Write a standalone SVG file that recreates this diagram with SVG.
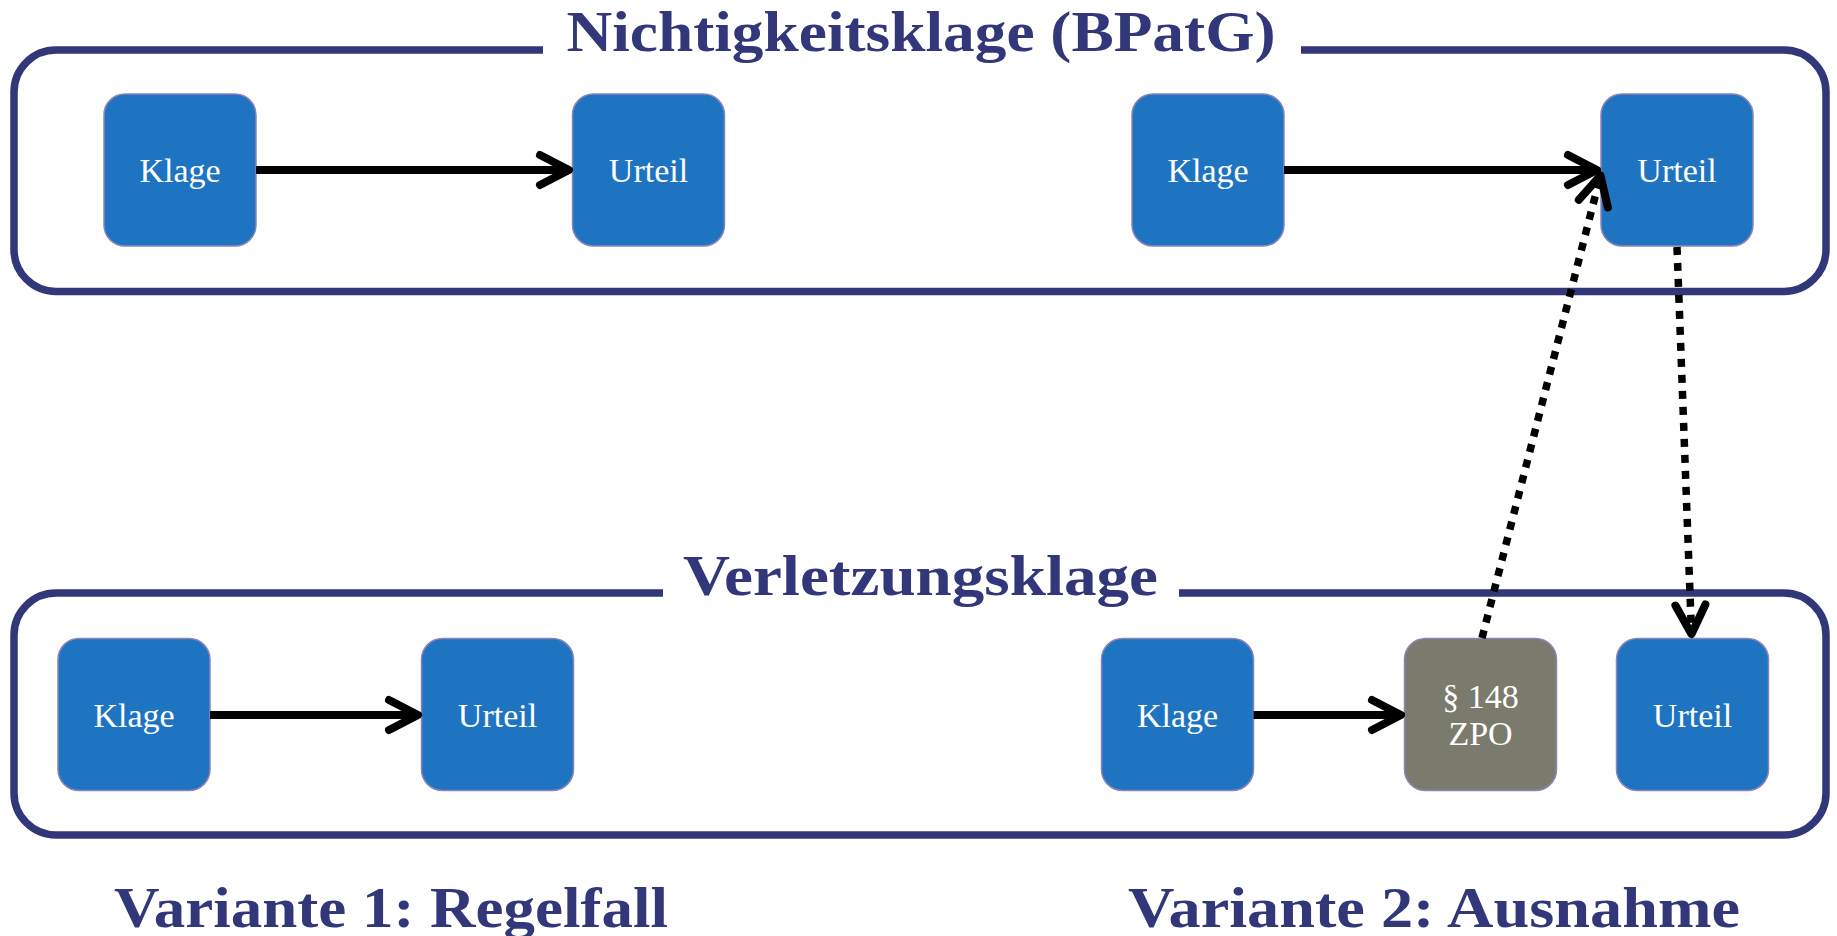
<svg xmlns="http://www.w3.org/2000/svg" width="1837" height="936" viewBox="0 0 1837 936">
<style>
.frame{fill:none;stroke:#32377a;stroke-width:7.5}
.title{font-family:"Liberation Serif","Times New Roman",serif;font-weight:bold;font-size:57px;fill:#32377a;text-anchor:middle}
.node rect{stroke:#8a84b8;stroke-width:1.5}
.blue{fill:#1f74c2}
.gray{fill:#7b7b6d}
.node text{font-family:"Liberation Serif","Times New Roman",serif;font-size:34px;fill:#ffffff;text-anchor:middle}
.conn{fill:none;stroke:#000;stroke-width:8;marker-end:url(#chev)}
.dot{fill:none;stroke:#000;stroke-width:7.5;stroke-dasharray:8 8;marker-end:url(#chev)}
</style>
<defs>
<marker id="chev" markerUnits="userSpaceOnUse" viewBox="-40 -25 50 50" markerWidth="50" markerHeight="50" refX="0" refY="0" orient="auto" overflow="visible">
<path d="M-29,-15 L0,0 L-29,15" fill="none" stroke="#000" stroke-width="8" stroke-linecap="round" stroke-linejoin="round" stroke-dasharray="none"/>
</marker>
</defs>
<rect width="1837" height="936" fill="#ffffff"/>
<g id="frame-nichtigkeit">
<path class="frame" d="M1301,50 H1784 A42,42 0 0 1 1826,92 V249.5 A42,42 0 0 1 1784,291.5 H56 A42,42 0 0 1 14,249.5 V92 A42,42 0 0 1 56,50 H543"/>
<text class="title" x="921" y="51" textLength="709" lengthAdjust="spacingAndGlyphs">Nichtigkeitsklage (BPatG)</text>
</g>
<g id="frame-verletzung">
<path class="frame" d="M1179,593 H1784 A42,42 0 0 1 1826,635 V793 A42,42 0 0 1 1784,835 H56 A42,42 0 0 1 14,793 V635 A42,42 0 0 1 56,593 H663"/>
<text class="title" x="920.5" y="595" textLength="475" lengthAdjust="spacingAndGlyphs">Verletzungsklage</text>
</g>
<g id="label-variante1"><text class="title" x="391" y="927" textLength="554" lengthAdjust="spacingAndGlyphs">Variante 1: Regelfall</text></g>
<g id="label-variante2"><text class="title" x="1434" y="927" textLength="612" lengthAdjust="spacingAndGlyphs">Variante 2: Ausnahme</text></g>

<g id="n-klage-top1" class="node"><rect class="blue" x="104" y="94" width="152" height="152" rx="21"/><text x="180" y="182">Klage</text></g>
<g id="n-urteil-top1" class="node"><rect class="blue" x="572.5" y="94" width="152" height="152" rx="21"/><text x="648.5" y="182">Urteil</text></g>
<g id="n-klage-top2" class="node"><rect class="blue" x="1132" y="94" width="152" height="152" rx="21"/><text x="1208" y="182">Klage</text></g>
<g id="n-urteil-top2" class="node"><rect class="blue" x="1601" y="94" width="152" height="152" rx="21"/><text x="1677" y="182">Urteil</text></g>

<g id="n-klage-bot1" class="node"><rect class="blue" x="58" y="638.5" width="152" height="152" rx="21"/><text x="134" y="726.5">Klage</text></g>
<g id="n-urteil-bot1" class="node"><rect class="blue" x="421.5" y="638.5" width="152" height="152" rx="21"/><text x="497.5" y="726.5">Urteil</text></g>
<g id="n-klage-bot2" class="node"><rect class="blue" x="1101.5" y="638.5" width="152" height="152" rx="21"/><text x="1177.5" y="726.5">Klage</text></g>
<g id="n-zpo" class="node"><rect class="gray" x="1404.5" y="638.5" width="152" height="152" rx="21"/><text x="1480.5" y="708">§ 148</text><text x="1480.5" y="745">ZPO</text></g>
<g id="n-urteil-bot2" class="node"><rect class="blue" x="1616.5" y="638.5" width="152" height="152" rx="21"/><text x="1692.5" y="726.5">Urteil</text></g>

<g id="connectors">
<line class="conn" x1="256" y1="170" x2="569" y2="170"/>
<line class="conn" x1="1284" y1="170" x2="1597" y2="170"/>
<line class="conn" x1="210" y1="715" x2="418" y2="715"/>
<line class="conn" x1="1253.5" y1="715" x2="1401" y2="715"/>
<line class="dot" x1="1482" y1="638" x2="1600.5" y2="175.5"/>
<line class="dot" x1="1677" y1="247" x2="1691.5" y2="634"/>
</g>
</svg>
